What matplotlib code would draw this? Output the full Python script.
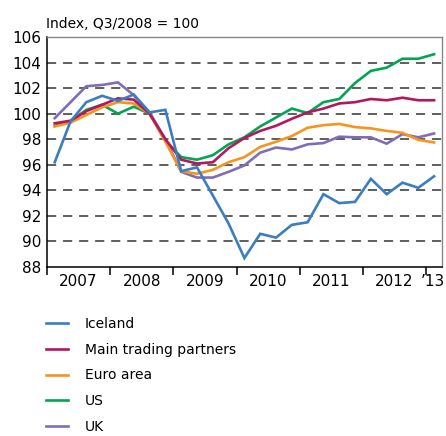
import numpy as np
import matplotlib.pyplot as plt

# quarterly data, 2007Q1 - 2013Q1, index Q3/2008 = 100
quarters = np.arange(25)
iceland = [96.2, 99.4, 100.9, 101.4, 101.0, 101.5, 100.1, 100.3, 95.5, 95.8,
           93.6, 91.4, 88.7, 90.6, 90.3, 91.3, 91.5, 93.7, 93.0, 93.1,
           94.9, 93.7, 94.6, 94.2, 95.1]
partners = [99.25, 99.45, 100.2, 100.7, 101.2, 101.1, 100.0, 98.0, 96.4, 96.1,
            96.2, 97.3, 98.1, 98.65, 99.05, 99.6, 100.1, 100.4, 100.8, 100.9,
            101.15, 101.05, 101.25, 101.05, 101.05]
euro = [99.0, 99.3, 99.9, 100.5, 100.9, 100.8, 100.0, 97.8, 95.5, 95.3,
        95.6, 96.2, 96.6, 97.4, 97.8, 98.25, 98.9, 99.1, 99.2, 98.95,
        98.85, 98.65, 98.5, 97.95, 97.75]
us = [99.05, 99.4, 100.3, 100.7, 100.0, 100.55, 100.0, 97.9, 96.6, 96.4,
      96.75, 97.6, 98.15, 99.0, 99.7, 100.4, 100.05, 100.9, 101.15, 102.4,
      103.35, 103.6, 104.3, 104.3, 104.65]
uk = [99.65, 100.9, 102.15, 102.25, 102.45, 101.45, 100.1, 98.0, 95.45, 95.0,
      95.0, 95.45, 95.95, 96.95, 97.35, 97.2, 97.6, 97.7, 98.2, 98.15,
      98.15, 97.65, 98.4, 98.15, 98.45]

series = [("UK", uk, "#7f6db8"),
          ("US", us, "#00a651"),
          ("Euro area", euro, "#f7941d"),
          ("Main trading partners", partners, "#b5175e"),
          ("Iceland", iceland, "#3a7dc2")]
legend_order = ["Iceland", "Main trading partners", "Euro area", "US", "UK"]

year_labels = ["2007", "2008", "2009", "2010", "2011", "2012", "\u201913"]

fig = plt.figure(figsize=(4.46, 4.36), dpi=100)
ax = fig.add_axes([0.105, 0.3876, 0.886, 0.5275])

t = 2007 + (quarters + 0.5) / 4
lines = {}
for name, vals, col in series:
    lines[name], = ax.plot(t, vals, color=col, lw=1.9, label=name,
                           solid_joinstyle="miter")

ax.set_xlim(2007, 2013.25)
ax.set_ylim(88, 106)
ax.set_yticks(np.arange(88, 107, 2))
for y in range(90, 106, 2):
    ax.axhline(y, color="#333333", lw=1.1, ls=(0, (6, 4.5)), zorder=0)

ax.set_xticks(np.arange(2007, 2014))
ax.set_xticklabels([])
ax.set_xticks(np.r_[np.arange(2007.5, 2013), 2013.1], minor=True)
ax.set_xticklabels(year_labels, minor=True)
ax.tick_params(axis="x", which="major", direction="out", length=6, width=1.1,
               color="black")
ax.tick_params(axis="x", which="minor", length=0, pad=5, labelsize=11)
ax.tick_params(axis="y", length=0, pad=4, labelsize=11)

for s in ["left", "bottom"]:
    ax.spines[s].set_color("black")
    ax.spines[s].set_linewidth(1.1)
for s in ["top", "right"]:
    ax.spines[s].set_color("#888888")
    ax.spines[s].set_linewidth(1.0)

fig.text(0.103, 0.93, "Index, Q3/2008 = 100", fontsize=10, ha="left",
         va="bottom")

fig.legend([lines[n] for n in legend_order], legend_order,
           loc="upper left", bbox_to_anchor=(0.075, 0.302), frameon=False,
           fontsize=10, handlelength=1.6, handletextpad=1.2, labelspacing=0.85)

fig.savefig("out.png", dpi=100)
